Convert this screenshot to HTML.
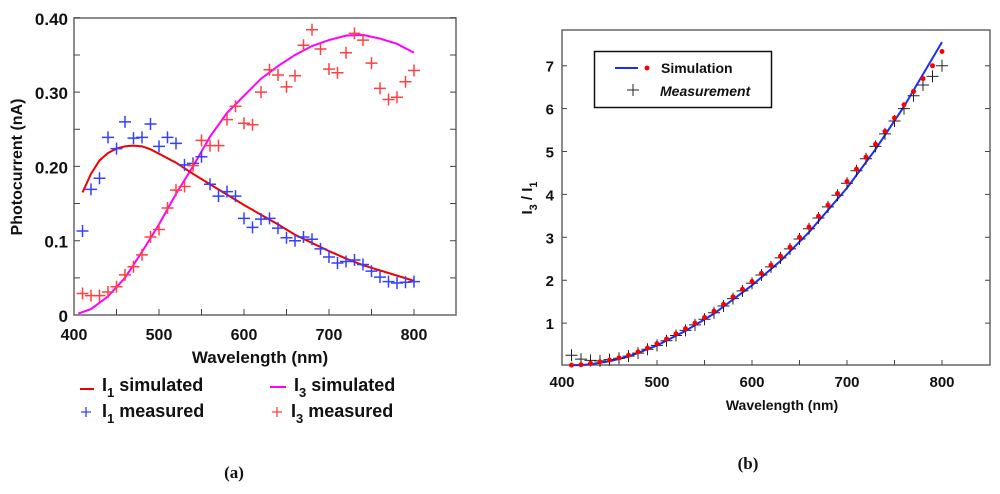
<!DOCTYPE html>
<html><head><meta charset="utf-8"><style>
body{margin:0;background:#fff;width:1000px;height:494px;overflow:hidden}
svg{display:block}
text{font-family:"Liberation Sans",sans-serif;font-weight:bold;fill:#111}
</style></head><body>
<svg id="s" width="1000" height="494" xmlns="http://www.w3.org/2000/svg">
<g id="pa"></g>
<g id="pb"></g>
</svg>
<script>
const wl = [];
for (let w = 410; w <= 800; w += 10) wl.push(w);
const i1Measured = [0.113,0.169,0.184,0.239,0.224,0.26,0.238,0.239,0.257,0.227,0.239,0.231,0.202,0.204,0.213,0.176,0.16,0.166,0.16,0.13,0.118,0.129,0.13,0.117,0.104,0.1,0.105,0.102,0.089,0.078,0.07,0.072,0.074,0.068,0.059,0.051,0.045,0.043,0.044,0.045];
const i3Measured = [0.029,0.026,0.026,0.031,0.038,0.054,0.065,0.081,0.105,0.115,0.144,0.168,0.173,0.201,0.235,0.228,0.228,0.263,0.281,0.258,0.256,0.3,0.33,0.323,0.307,0.322,0.363,0.384,0.358,0.331,0.326,0.353,0.379,0.37,0.339,0.305,0.29,0.293,0.314,0.329];
const simWlA = [410,420,430,440,450,460,470,480,490,500,520,540,560,580,600,620,640,660,680,700,720,740,760,780,800];
const i1Sim = [0.165,0.19,0.208,0.218,0.224,0.227,0.228,0.227,0.223,0.217,0.205,0.19,0.176,0.162,0.148,0.135,0.122,0.108,0.097,0.086,0.076,0.067,0.06,0.053,0.046];
const simWlA3 = [405,420,440,460,480,500,520,540,560,580,600,620,640,660,680,700,720,740,760,780,800];
const i3Sim = [0.002,0.008,0.025,0.05,0.085,0.122,0.163,0.2,0.24,0.272,0.295,0.318,0.335,0.35,0.362,0.37,0.376,0.377,0.372,0.365,0.353];
const yTicksA = ["0","0.1","0.20","0.30","0.40"];
const xTicks = [400,500,600,700,800];
const ratioSimDots = [0.02,0.03,0.06,0.1,0.14,0.19,0.25,0.33,0.42,0.52,0.63,0.75,0.87,1.0,1.13,1.28,1.44,1.61,1.79,1.97,2.16,2.35,2.56,2.77,3.0,3.24,3.49,3.75,4.02,4.3,4.59,4.87,5.17,5.47,5.78,6.09,6.4,6.7,7.0,7.33];
const ratioMeasured = [0.25,0.16,0.13,0.12,0.15,0.18,0.23,0.3,0.39,0.48,0.59,0.71,0.83,0.96,1.09,1.24,1.4,1.57,1.75,1.93,2.12,2.31,2.52,2.73,2.96,3.2,3.45,3.71,3.98,4.26,4.55,4.83,5.12,5.41,5.71,6.0,6.3,6.55,6.75,7.0];
const lineWlB = [410,420,430,450,470,500,530,560,600,630,660,700,730,760,780,800];
const ratioLine = [0.02,0.02,0.04,0.11,0.22,0.48,0.82,1.22,1.88,2.45,3.12,4.15,5.05,6.05,6.8,7.55];
const yTicksB = [1,2,3,4,5,6,7];

const NS = "http://www.w3.org/2000/svg";
function mk(parent, tag, attrs, txt) {
  const e = document.createElementNS(NS, tag);
  for (const k in attrs) e.setAttribute(k, attrs[k]);
  if (txt !== undefined) e.textContent = txt;
  parent.appendChild(e);
  return e;
}
function plus(g, x, y, s, color, w) {
  return mk(g, "path", {d:`M${x-s},${y}H${x+s}M${x},${y-s}V${y+s}`, stroke:color, "stroke-width":w, fill:"none"});
}

// Panel A
const pa = document.getElementById("pa");
const ax = w => 74 + (w - 400) * 0.85;
const ay = v => 315 - v * 743;
let e = mk(pa, "rect", {x:74, y:18, width:382, height:297, fill:"none", stroke:"#666", "stroke-width":1.5});


for (let w = 450; w <= 800; w += 50) {
  mk(pa, "path", {d:`M${ax(w)},315v-6`, stroke:"#444"});
}
for (let v = 0.05; v < 0.4; v += 0.05) {
  mk(pa, "path", {d:`M74,${ay(v)}h6M456,${ay(v)}h-6`, stroke:"#444"});
}
yTicksA.forEach((t, i) => {
  e = mk(pa, "text", {x:68, y:ay(i*0.1)+7, "text-anchor":"end", "font-size":17}, t);
  
  
});
xTicks.forEach(t => {
  e = mk(pa, "text", {x:ax(t), y:340, "text-anchor":"middle", "font-size":16}, t);
  
  
});
e = mk(pa, "text", {x:260, y:363, "text-anchor":"middle", "font-size":17}, "Wavelength (nm)");


e = mk(pa, "text", {x:0, y:0, "text-anchor":"middle", "font-size":16, transform:"translate(22,167) rotate(-90)"}, "Photocurrent (nA)");



e = mk(pa, "polyline", {points: simWlA3.map((w,i)=>ax(w)+","+ay(i3Sim[i])).join(" "), fill:"none", stroke:"#f0f", "stroke-width":2});


e = mk(pa, "polyline", {points: simWlA.map((w,i)=>ax(w)+","+ay(i1Sim[i])).join(" "), fill:"none", stroke:"#e00", "stroke-width":2});


wl.forEach((w,i) => {
  e = plus(pa, ax(w), ay(i1Measured[i]), 6, "#3340ff", 1.5);
  
  
  e = plus(pa, ax(w), ay(i3Measured[i]), 6, "#ff4040", 1.5);
  
  
});
// legend A
const la = mk(pa, "g", {});


mk(la, "path", {d:"M80,389h14", stroke:"#e00", "stroke-width":2});
mk(la, "path", {d:"M270,387h16", stroke:"#f0f", "stroke-width":2});
plus(la, 86, 412, 5, "#3340ff", 1.3);
plus(la, 277, 412, 5, "#ff4040", 1.3);
function legText(x, y, n, rest) {
  const t = mk(la, "text", {x:x, y:y, "font-size":18});
  mk(t, "tspan", {}, "I");
  mk(t, "tspan", {dy:6, "font-size":13}, n);
  mk(t, "tspan", {dy:-6}, " " + rest);
  return t;
}
e = legText(102, 391, "1", "simulated");  
e = legText(294, 391, "3", "simulated");  
e = legText(102, 417, "1", "measured");  
e = legText(291, 417, "3", "measured");  
e = mk(pa, "text", {x:234, y:478, "text-anchor":"middle", "font-size":17, style:"font-family:'Liberation Serif',serif"}, "(a)");



// Panel B
const pb = document.getElementById("pb");
const bx = w => 562 + (w - 400) * 0.95;
const by = v => 366 - v * 42.9;
e = mk(pb, "rect", {x:562, y:30, width:428, height:335, fill:"none", stroke:"#666", "stroke-width":1.5});


for (let w = 450; w <= 800; w += 50) mk(pb, "path", {d:`M${bx(w)},365v-5`, stroke:"#444"});
yTicksB.forEach(v => {
  mk(pb, "path", {d:`M562,${by(v)}h5M990,${by(v)}h-5`, stroke:"#444"});
  e = mk(pb, "text", {x:554, y:by(v)+6, "text-anchor":"end", "font-size":15}, v);
  
  
});
xTicks.forEach(t => {
  e = mk(pb, "text", {x:bx(t), y:387, "text-anchor":"middle", "font-size":15}, t);
  
  
});
e = mk(pb, "text", {x:782, y:410, "text-anchor":"middle", "font-size":14}, "Wavelength (nm)");


e = mk(pb, "text", {x:0, y:0, "text-anchor":"middle", "font-size":15, transform:"translate(532,198) rotate(-90)"});
mk(e, "tspan", {}, "I");
mk(e, "tspan", {dy:5, "font-size":11}, "3");
mk(e, "tspan", {dy:-5}, " / I");
mk(e, "tspan", {dy:5, "font-size":11}, "1");



e = mk(pb, "polyline", {points: lineWlB.map((w,i)=>bx(w)+","+by(ratioLine[i])).join(" "), fill:"none", stroke:"#1a2cff", "stroke-width":2});


wl.forEach((w,i) => {
  e = plus(pb, bx(w), by(ratioMeasured[i]), 6, "#222", 1);
  
  
  e = mk(pb, "circle", {cx:bx(w), cy:by(ratioSimDots[i]), r:2.5, fill:"#f00"});
  
  
});
const lb = mk(pb, "g", {});


mk(lb, "rect", {x:594.5, y:51.5, width:177, height:56, fill:"#fff", stroke:"#111", "stroke-width":1.5});
mk(lb, "path", {d:"M615,68h23", stroke:"#1a2cff", "stroke-width":2});
mk(lb, "circle", {cx:647, cy:68, r:2.5, fill:"#f00"});
plus(lb, 633, 90, 6, "#222", 1);
mk(lb, "text", {x:661, y:73, "font-size":14}, "Simulation");
mk(lb, "text", {x:660, y:96, "font-size":14, "font-style":"italic"}, "Measurement");
e = mk(pb, "text", {x:748, y:469, "text-anchor":"middle", "font-size":17, style:"font-family:'Liberation Serif',serif"}, "(b)");


</script>
</body></html>
